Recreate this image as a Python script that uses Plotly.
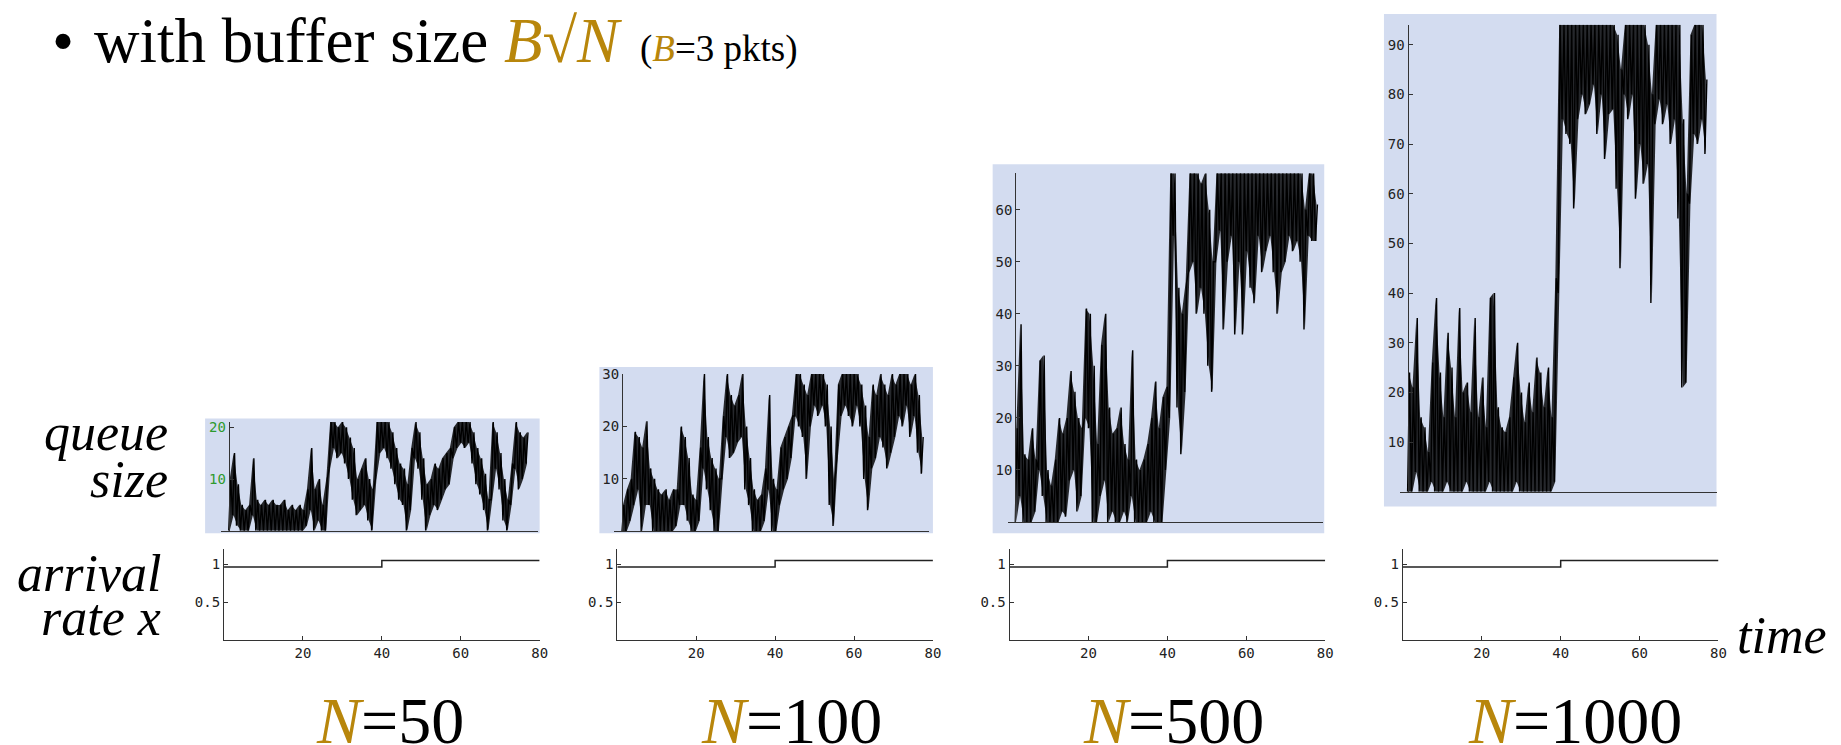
import plotly.graph_objects as go

# ---------------- data ----------------
N_values = [50, 100, 500, 1000]
buffer_sizes = [21, 30, 67, 94]          # B*sqrt(N), B = 3 pkts

# queue size: per unit of time, lowest and highest value seen
q50_lo = [0, 3, 1, 0, 0, 0, 3, 0, 0, 0, 0, 0, 0, 0, 0, 0, 0, 0, 0, 0,
          1, 4, 0, 2, 0, 0, 12, 16, 14, 15, 13, 10, 6, 3, 4, 5, 2, 0, 10, 15,
          16, 14, 12, 9, 6, 5, 0, 4, 14, 12, 6, 0, 3, 5, 4, 6, 8, 9, 14, 16,
          17, 16, 17, 13, 9, 7, 4, 0, 6, 12, 8, 2, 0, 5, 12, 8, 10, 13]
q50_hi = [10, 15, 9, 5, 4, 5, 14, 6, 5, 6, 5, 6, 5, 5, 6, 4, 5, 4, 5, 4,
          8, 16, 8, 10, 5, 10, 21, 21, 20, 21, 20, 18, 16, 10, 12, 14, 10, 8, 21, 21,
          21, 21, 19, 16, 13, 12, 9, 16, 21, 19, 14, 9, 10, 13, 12, 14, 15, 16, 20, 21,
          21, 21, 21, 19, 16, 14, 11, 6, 21, 19, 15, 10, 6, 13, 21, 19, 18, 19]

q100_lo = [0, 0, 2, 5, 8, 0, 5, 5, 0, 0, 0, 0, 0, 0, 1, 5, 5, 2, 0, 0,
           2, 12, 8, 4, 0, 0, 10, 18, 14, 15, 17, 18, 8, 5, 0, 0, 0, 2, 8, 0,
           0, 5, 8, 10, 14, 22, 20, 18, 10, 20, 24, 22, 24, 20, 5, 1, 14, 22, 24, 22,
           20, 24, 20, 10, 4, 12, 14, 18, 16, 12, 15, 18, 22, 20, 24, 18, 22, 15, 11]
q100_hi = [5, 8, 10, 19, 18, 16, 21, 12, 10, 8, 7, 8, 6, 8, 8, 20, 18, 14, 7, 6,
           16, 30, 18, 14, 12, 10, 22, 30, 26, 24, 26, 30, 20, 14, 8, 6, 7, 12, 26, 10,
           8, 16, 18, 20, 22, 30, 30, 28, 26, 30, 30, 30, 30, 28, 20, 10, 28, 30, 30, 30,
           30, 30, 28, 24, 18, 28, 26, 30, 28, 26, 30, 28, 30, 30, 30, 28, 30, 26, 18]

q500_lo = [0, 5, 0, 0, 0, 2, 10, 5, 0, 0, 0, 0, 2, 1, 8, 10, 2, 5, 20, 18,
           0, 0, 5, 8, 0, 2, 0, 0, 2, 0, 5, 0, 0, 0, 0, 2, 0, 0, 0, 10,
           20, 55, 22, 13, 25, 48, 50, 40, 45, 40, 30, 25, 50, 56, 37, 50, 55, 36, 50, 36,
           52, 45, 42, 55, 48, 52, 55, 48, 40, 48, 50, 55, 52, 54, 50, 37, 55, 54, 54]
q500_hi = [18, 38, 13, 12, 18, 12, 31, 32, 10, 7, 12, 20, 17, 20, 29, 25, 20, 18, 41, 40,
           30, 15, 34, 40, 22, 17, 18, 22, 15, 12, 33, 12, 10, 12, 15, 20, 27, 18, 24, 26,
           67, 67, 45, 40, 46, 67, 67, 67, 65, 67, 60, 50, 67, 67, 67, 67, 67, 67, 67, 67,
           67, 67, 67, 67, 67, 67, 67, 67, 67, 67, 67, 67, 67, 67, 67, 60, 67, 67, 61]

q1000_lo = [0, 0, 4, 0, 0, 0, 2, 0, 0, 0, 2, 0, 0, 0, 0, 2, 0, 0, 0, 0,
            0, 2, 0, 0, 0, 0, 0, 0, 2, 0, 0, 0, 0, 0, 0, 0, 0, 0, 2, 40,
            75, 72, 70, 57, 75, 80, 76, 78, 82, 72, 80, 67, 76, 77, 61, 45, 80, 75, 80, 59,
            70, 62, 66, 38, 74, 79, 74, 78, 70, 75, 55, 21, 22, 58, 72, 70, 75, 68]
q1000_hi = [24, 21, 35, 15, 13, 8, 26, 39, 24, 15, 32, 25, 15, 37, 20, 22, 16, 35, 15, 23,
            13, 39, 40, 17, 13, 12, 15, 23, 30, 20, 14, 22, 16, 27, 24, 17, 25, 15, 43, 94,
            94, 94, 94, 94, 94, 94, 94, 94, 94, 94, 94, 94, 94, 94, 92, 85, 94, 94, 94, 94,
            94, 94, 90, 80, 94, 94, 94, 94, 94, 94, 94, 75, 60, 92, 94, 94, 94, 83]

queue_lo = [q50_lo, q100_lo, q500_lo, q1000_lo]
queue_hi = [q50_hi, q100_hi, q500_hi, q1000_hi]

# arrival rate x (step at t = 40)
arrival_t = [0, 40, 80]
arrival_rate = [0.965, 1.05, 1.05]
arrival_ticks_x = [20, 40, 60, 80]
arrival_ticks_y = [0.5, 1]
arrival_ticktext_y = ["0.5", "1"]

# ---------------- layout geometry (pixels) ----------------
W, H = 1841, 745
GOLD = "#B8860B"
AXC = "#333333"
TXC = "#222222"
BG = "#D3DCF0"

queue_geo = [  # x-left, x-right, y-top, y-bottom of the axes ; background rect
    dict(xl=222, xr=540, yt=418.5, yb=528.5, bg=(206, 415, 542, 531)),
    dict(xl=617, xr=933, yt=370, yb=529, bg=(602, 363, 937, 531)),
    dict(xl=1012, xr=1329, yt=167, yb=519.6, bg=(997, 158, 1330, 531)),
    dict(xl=1406, xr=1724, yt=17, yb=489, bg=(1390, 6, 1724, 504)),
]
arr_geo = [(225, 542), (620, 937), (1014, 1331), (1409, 1726)]
ARR_TOP, ARR_BOT = 547, 639


def px(x):
    return x / W


def py(y):
    return 1 - y / H


fig = go.Figure()
layout = dict(
    width=W, height=H,
    margin=dict(l=0, r=0, t=0, b=0),
    paper_bgcolor="white", plot_bgcolor="rgba(0,0,0,0)",
    showlegend=False,
    shapes=[], annotations=[],
)

TICKFAM = "DejaVu Sans Mono"
tickfont = dict(family=TICKFAM, size=14, color=TXC)

for i in range(4):
    g = queue_geo[i]
    qi = 2 * i + 1
    ai = 2 * i + 2
    xa = "x" if qi == 1 else f"x{qi}"
    ya = "y" if qi == 1 else f"y{qi}"
    xkey = "xaxis" if qi == 1 else f"xaxis{qi}"
    ykey = "yaxis" if qi == 1 else f"yaxis{qi}"

    # background
    x0, y0, x1, y1 = g["bg"]
    layout["shapes"].append(dict(type="rect", xref="paper", yref="paper",
                                 x0=px(x0), x1=px(x1), y0=py(y1), y1=py(y0),
                                 fillcolor=BG, line=dict(width=0), layer="below"))

    lo_vals = queue_lo[i]
    hi_vals = queue_hi[i]
    t_vals = list(range(len(lo_vals)))
    t_mid = [t + 0.25 for t in t_vals]
    # dense band between the low and high readings
    fig.add_trace(go.Scatter(x=t_mid, y=lo_vals, mode="lines", xaxis=xa, yaxis=ya,
                             line=dict(color="rgba(0,0,0,0)", width=0), hoverinfo="skip"))
    fig.add_trace(go.Scatter(x=t_mid, y=hi_vals, mode="lines", xaxis=xa, yaxis=ya,
                             fill="tonexty", fillcolor="rgba(0,0,0,0.82)",
                             line=dict(color="rgba(0,0,0,0)", width=0), hoverinfo="skip"))
    # queue trace: zig-zag between the low and high reading of each time unit
    xs, ys = [], []
    for t, lo, hi in zip(t_vals, lo_vals, hi_vals):
        xs += [t, t + 0.5]
        ys += [lo, hi]
    fig.add_trace(go.Scatter(x=xs, y=ys, mode="lines", xaxis=xa, yaxis=ya,
                             line=dict(color="black", width=1.4), hoverinfo="skip"))

    B = buffer_sizes[i]
    yaxis_pos = g["xl"] + 2 * (g["xr"] - g["xl"]) / 82
    layout[xkey] = dict(domain=[px(g["xl"]), px(g["xr"])], range=[-2, 80], anchor=ya,
                        showline=True, linecolor=AXC, linewidth=1.2, showgrid=False,
                        zeroline=False, showticklabels=False, ticks="")
    layout[ykey] = dict(domain=[py(g["yb"]), py(g["yt"])], range=[0, B], anchor="free",
                        position=px(yaxis_pos), showline=True, linecolor=AXC, linewidth=1.2,
                        showgrid=False, zeroline=False, ticks="inside", ticklen=4,
                        tickcolor=AXC, tickvals=list(range(10, B + 1, 10)),
                        tickfont=dict(family=TICKFAM, size=14,
                                      color="#2E9A2E" if i == 0 else TXC))

    # arrival rate panel
    xa2 = f"x{ai}"
    ya2 = f"y{ai}"
    fig.add_trace(go.Scatter(x=arrival_t, y=arrival_rate, mode="lines", line_shape="hv",
                             xaxis=xa2, yaxis=ya2, line=dict(color="#222222", width=1.5),
                             hoverinfo="skip"))
    axl, axr = arr_geo[i]
    layout[f"xaxis{ai}"] = dict(domain=[px(axl), px(axr)], range=[0, 80], anchor=ya2,
                                showline=True, linecolor=AXC, linewidth=1.2, showgrid=False,
                                zeroline=False, ticks="inside", ticklen=4, tickcolor=AXC,
                                tickvals=arrival_ticks_x, tickfont=tickfont)
    layout[f"yaxis{ai}"] = dict(domain=[py(ARR_BOT), py(ARR_TOP)], range=[0, 1.2], anchor=xa2,
                                showline=True, linecolor=AXC, linewidth=1.2, showgrid=False,
                                zeroline=False, ticks="inside", ticklen=4, tickcolor=AXC,
                                tickvals=arrival_ticks_y, ticktext=arrival_ticktext_y,
                                tickfont=tickfont)

SERIF = "Liberation Serif"


def ann(text, x, y, size, xanchor="left", color="black"):
    layout["annotations"].append(dict(text=text, x=px(x), y=py(y), xref="paper", yref="paper",
                                      xanchor=xanchor, yanchor="middle", showarrow=False,
                                      font=dict(family=SERIF, size=size, color=color)))


# title line
ann("•", 50, 33, 63)
ann("with buffer size", 92, 33, 63)
ann(f"<span style='color:{GOLD}'><i>B</i>√<i>N</i></span>", 504, 33, 63)
ann(f"(<span style='color:{GOLD}'><i>B</i></span>=3 pkts)", 641, 41, 37)

# left labels
ann("<i>queue</i>", 171, 429, 52, "right")
ann("<i>size</i>", 171, 477, 52, "right")
ann("<i>arrival</i>", 164, 572, 52, "right")
ann("<i>rate x</i>", 164, 616, 52, "right")
ann("<i>time</i>", 1743, 634, 52, "left")

# N labels
n_centers = [392, 795, 1179, 1582]
for n, cx in zip(N_values, n_centers):
    ann(f"<span style='color:{GOLD}'><i>N</i></span>={n}", cx, 720, 66, "center")

fig.update_layout(**layout)
fig.write_html("out.html")
